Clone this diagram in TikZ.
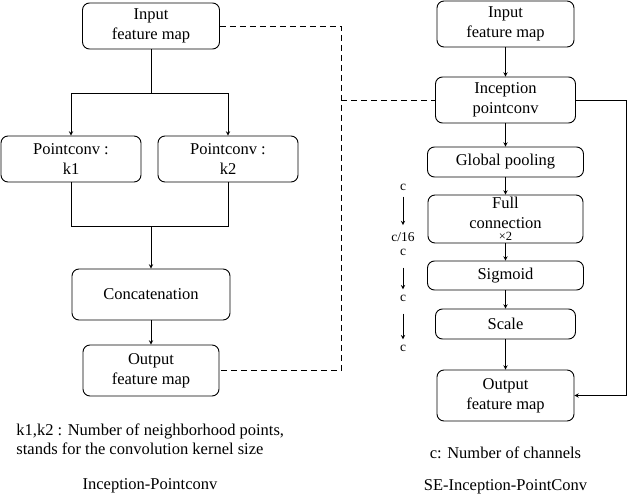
\documentclass[tikz,border=0pt]{standalone}
\usepackage{fontspec}
\setmainfont{Liberation Serif}
\usetikzlibrary{arrows}
\tikzset{
  blk/.style={draw, line width=0.9pt, rounded corners=7pt, align=center, inner sep=0pt,
    font=\fontsize{16.5}{20}\selectfont},
  lbl/.style={inner sep=0pt, font=\fontsize{16.5}{19}\selectfont},
  chn/.style={inner sep=1pt, font=\fontsize{13.5}{15}\selectfont},
  dashline/.style={line width=0.9pt, dash pattern=on 6pt off 4pt}
}
\begin{document}
\begin{tikzpicture}[>=stealth, x=1pt, y=-1pt, line width=0.9pt]
            \useasboundingbox (0,0) rectangle (627,495);
            \def\xl{151} \def\xr{505.5}
            % left: Inception-Pointconv
            \node[blk, minimum width=137pt, minimum height=46pt] (in1) at (\xl,26) {Input\\feature map};
            \node[blk, minimum width=140pt, minimum height=46pt] (pc1) at (71,159) {Pointconv :\\k1};
            \node[blk, minimum width=140pt, minimum height=46pt] (pc2) at (228,159) {Pointconv :\\k2};
            \node[blk, minimum width=158pt, minimum height=51pt] (cat) at (\xl,294.5) {Concatenation};
            \node[blk, minimum width=136pt, minimum height=51pt] (out1) at (\xl,370.5) {Output\\feature map};
            \coordinate (s1) at (\xl,93);
            \coordinate (m1) at (\xl,226);
            \draw (in1.south) -- (s1);
            \draw[->] (s1) -| (pc1.north);
            \draw[->] (s1) -| (pc2.north);
            \draw (pc1.south) |- (m1);
            \draw (pc2.south) |- (m1);
            \draw[->] (m1) -- (cat.north);
            \draw[->] (cat.south) -- (out1.north);
            \node[lbl, anchor=west, align=left] (note1) at (16,439) {k1,k2 : Number of neighborhood points,\\stands for the convolution kernel size};
            \node[lbl] (tit1) at (150,486) {Inception-Pointconv};
            % right: SE-Inception-PointConv
            \node[blk, minimum width=137pt, minimum height=46pt] (in2) at (\xr,24) {Input\\feature map};
            \node[blk, minimum width=140pt, minimum height=46pt] (inc) at (\xr,100) {Inception\\pointconv};
            \node[blk, minimum width=156pt, minimum height=30pt] (gp) at (\xr,162) {Global pooling};
            \node[blk, minimum width=155pt, minimum height=48pt] (fc) at (\xr,219) {Full\\connection\\[-8pt]{\fontsize{12.5}{12}\selectfont ×2}};
            \node[blk, minimum width=156pt, minimum height=29pt] (sg) at (\xr,275.5) {Sigmoid};
            \node[blk, minimum width=140pt, minimum height=30pt] (sc) at (\xr,324) {Scale};
            \node[blk, minimum width=137pt, minimum height=51pt] (out2) at (\xr,395.5) {Output\\feature map};
            \draw[->] (in2) -- (inc);
            \draw[->] (inc) -- (gp);
            \draw[->] (gp) -- (fc);
            \draw[->] (fc) -- (sg);
            \draw[->] (sg) -- (sc);
            \draw[->] (sc) -- (out2);
            \coordinate (rt) at (626,100);
            \draw[->] (inc.east) -- (rt) |- (out2.east);
            % channel sizes
            \node[chn] (c1) at (403,187) {c};
            \node[chn] (c2) at (403,237) {c/16};
            \node[chn] (c3) at (403,252) {c};
            \node[chn] (c4) at (403,298) {c};
            \node[chn] (c5) at (403,348) {c};
            \draw[->, shorten <=5pt, shorten >=6pt] (c1) -- (c2);
            \draw[->, shorten <=11pt, shorten >=4pt] (c3) -- (c4);
            \draw[->, shorten <=11pt, shorten >=4pt] (c4) -- (c5);
            \node[lbl] (note2) at (\xr,453) {c: Number of channels};
            \node[lbl] (tit2) at (\xr,487) {SE-Inception-PointConv};
            % dashed links
            \coordinate (dt) at (341,26);
            \coordinate (dm) at (341,100);
            \coordinate (db) at (341,370.5);
            \draw[dashline] (in1.east) -- (dt) -- (db) -- (out1.east);
            \draw[dashline] (dm) -- (inc.west);
\end{tikzpicture}
\end{document}
